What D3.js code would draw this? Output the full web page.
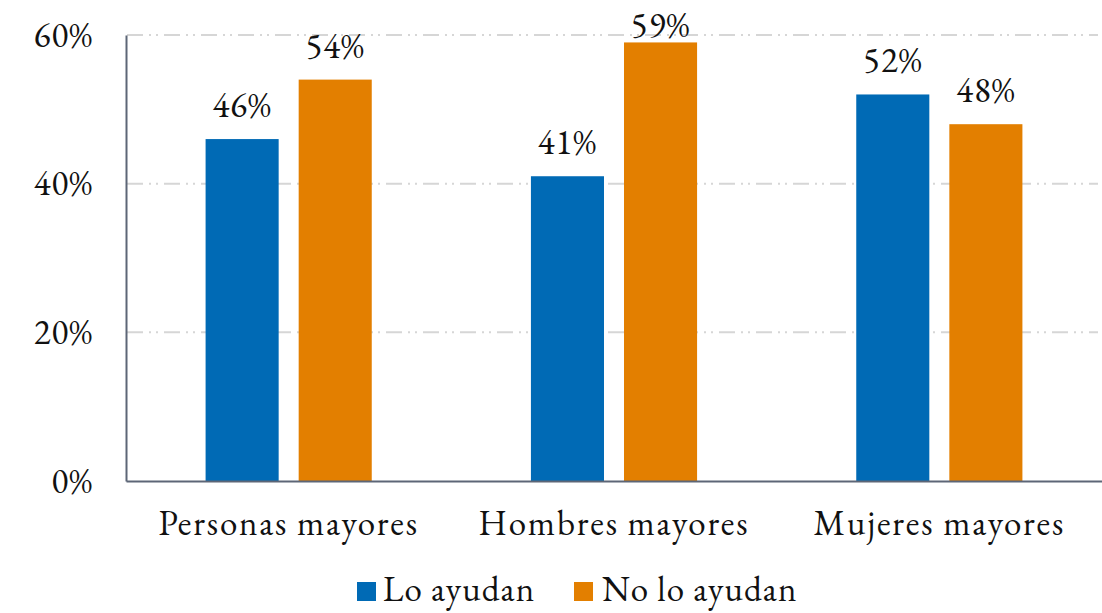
<!DOCTYPE html>
<html><head><meta charset="utf-8">
<script src="https://cdn.jsdelivr.net/npm/d3@7"></script>
<style>body{margin:0;background:#fff;} svg{display:block;}</style>
</head><body><svg id="c" width="1102" height="613" font-family="EB Garamond"></svg>
<script>
const categories = ["Personas mayores","Hombres mayores","Mujeres mayores"];
const seriesNames = ["Lo ayudan","No lo ayudan"];
const loAyudan = [46,41,52];
const noLoAyudan = [54,59,48];
const yTicks = [0,20,40,60];
const colors = ["#006ab5","#e37f00"];
const FONT = "EB Garamond";
const FS = 35;

const svg = d3.select("#c");
const W = 1102;
const x = d3.scaleBand().domain(categories).range([126, W]);
const y = d3.scaleLinear().domain([0,60]).range([481, 35]);
const inner = d3.scaleBand().domain(seriesNames).range([0, x.bandwidth()]).paddingInner(0.215).paddingOuter(0.855);

function styleText(sel){ sel.attr("font-family", FONT).attr("fill","#111"); }

// grid
svg.append("g").selectAll("line").data(yTicks.filter(d=>d>0)).join("line")
  .attr("x1", 127).attr("x2", W-4).attr("y1", d=>y(d)).attr("y2", d=>y(d))
  .attr("stroke","#d6d6d6").attr("stroke-width",2).attr("stroke-dasharray","16,6,2,5,2,6");

// bars
const data = categories.map((c,i)=>({c, vals:[loAyudan[i], noLoAyudan[i]]}));
const g = svg.append("g").selectAll("g").data(data).join("g").attr("transform", d=>`translate(${x(d.c)},0)`);
g.selectAll("rect").data(d=>d.vals.map((v,j)=>({v, s:seriesNames[j], j}))).join("rect")
  .attr("x", d=>inner(d.s)).attr("width", inner.bandwidth())
  .attr("y", d=>y(d.v)).attr("height", d=>y(0)-y(d.v)).attr("fill", d=>colors[d.j]);
g.selectAll("text.v").data(d=>d.vals.map((v,j)=>({v, s:seriesNames[j], j}))).join("text")
  .attr("class","v").attr("x", d=>inner(d.s)+inner.bandwidth()/2).attr("y", d=>Math.max(y(d.v)-22, 37))
  .attr("text-anchor","middle").attr("font-size",FS).attr("letter-spacing","1").text(d=>d.v+"%").call(styleText);

// y axis
const ya = svg.append("g").attr("transform",`translate(126,0)`)
  .call(d3.axisLeft(y).tickValues(yTicks).tickFormat(d=>d+"%").tickSize(0).tickPadding(33));
ya.attr("font-family", FONT);
ya.select(".domain").attr("stroke","#5d6677").attr("stroke-width",2);
ya.selectAll("text").attr("font-size",FS).attr("letter-spacing","1").attr("dy","0").attr("y",11).call(styleText);

// x axis
const xa = svg.append("g").attr("transform",`translate(0,${y(0)})`)
  .call(d3.axisBottom(x).tickSize(0));
xa.attr("font-family", FONT);
xa.select(".domain").attr("stroke","#5d6677").attr("stroke-width",2);
xa.selectAll("text").attr("font-size",FS).attr("letter-spacing","1.8").attr("dy","0").attr("y",54).call(styleText);

// legend
const leg = svg.append("g");
const lx = [357, 574];
const tx = [383, 602];
seriesNames.forEach((s,i)=>{
  leg.append("rect").attr("x", lx[i]).attr("y", 582).attr("width",19).attr("height",19).attr("fill",colors[i]);
  leg.append("text").attr("x", tx[i]).attr("y", 601).attr("font-size",FS).attr("letter-spacing","1.1").text(s).call(styleText);
});
</script></body></html>
